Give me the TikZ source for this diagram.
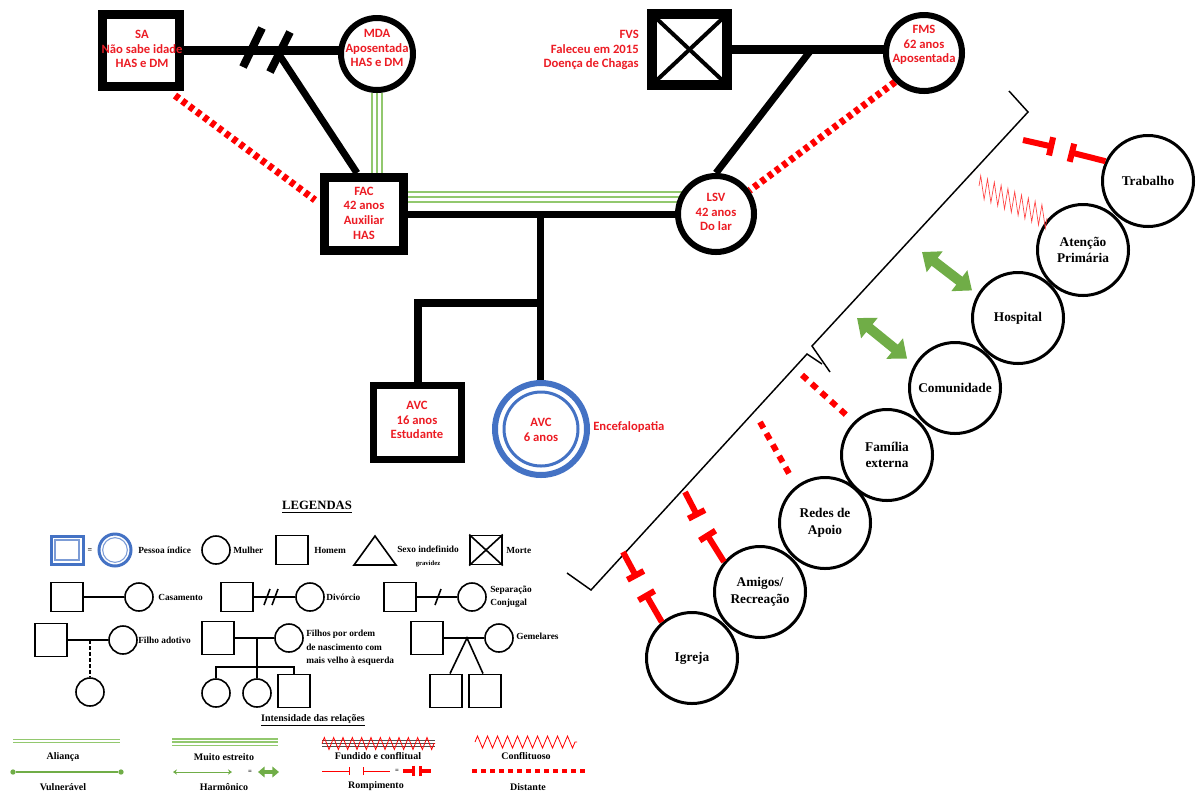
\documentclass[tikz,border=0pt]{standalone}
\usepackage{fontspec}
\setmainfont{Liberation Serif}
\newfontfamily\calib{Carlito}
\usetikzlibrary{arrows.meta,decorations.pathmorphing,calc,shapes.geometric}
\definecolor{gred}{RGB}{236,28,36}
\definecolor{lred}{RGB}{255,0,0}
\definecolor{lgreen}{RGB}{146,200,110}
\definecolor{dgreen}{RGB}{112,173,71}
\definecolor{iblue}{RGB}{68,114,196}
\pgfdeclarelayer{bg}
\pgfsetlayers{bg,main}
\tikzset{
  gsq/.style={draw, rectangle, fill=white, line width=6.75pt, inner sep=0pt},
  gci/.style={draw, circle, fill=white, line width=4.5pt, inner sep=0pt},
  rtxt/.style={text=gred, font=\calib\bfseries\fontsize{9.5}{11}\selectfont, align=center, inner sep=0pt},
  gline/.style={line width=5.25pt},
  mline/.style={line width=6.75pt},
  triple/.style={draw=lgreen, line width=9pt, postaction={draw=white, line width=6pt}, postaction={draw=lgreen, line width=1.9pt}},
  triples/.style={draw=lgreen, line width=6pt, postaction={draw=white, line width=3.75pt}, postaction={draw=lgreen, line width=1.1pt}},
  distg/.style={lred, line width=5.25pt, dash pattern=on 3.75pt off 3pt},
  diste/.style={lred, line width=4.5pt, dash pattern=on 5.25pt off 4.5pt},
  eco/.style={draw, circle, fill=white, line width=2.25pt, minimum size=68.25pt, inner sep=0pt, align=center, font=\bfseries\fontsize{10}{12.5}\selectfont},
  rompe/.style={lred, line width=4.5pt, -{Bar[width=14pt]}},
  harm/.style={dgreen, line width=7.5pt, {Triangle[width=19pt,length=12pt]}-{Triangle[width=19pt,length=12pt]}},
  conf/.style={lred!75, line width=0.5pt, line join=miter},
  brk/.style={line width=1.1pt},
  lsq/.style={draw, rectangle, fill=white, line width=1.2pt, inner sep=0pt, minimum width=24pt, minimum height=22pt},
  lci/.style={draw, circle, fill=white, line width=1.2pt, inner sep=0pt, minimum size=21pt},
  lline/.style={line width=1.2pt},
  ltx/.style={font=\bfseries\fontsize{7}{10}\selectfont, anchor=west, inner sep=0pt, align=left},
  rtx/.style={font=\bfseries\fontsize{7.5}{9}\selectfont, inner sep=0pt},
}
\begin{document}
\begin{tikzpicture}[x=0.75pt,y=-0.75pt]
\useasboundingbox (0,0) rectangle (1198,794);

% ---------------- genogram nodes
\node[gsq, minimum width=57.75pt, minimum height=54pt] (SA) at (141,50) {};
\node[gci, minimum size=54pt] (MDA) at (377,54) {};
\node[gsq, minimum width=59.25pt, minimum height=54.75pt] (FAC) at (364,214) {};
\node[gsq, line width=7.5pt, minimum width=56.25pt, minimum height=53.25pt] (FVS) at (689.5,49.5) {};
\node[gci, minimum size=57pt] (FMS) at (924,53) {};
\node[gci, minimum size=57pt] (LSV) at (716,214) {};
\node[gsq, line width=5.25pt, minimum width=66pt, minimum height=55.5pt] (AVCm) at (417.5,422.5) {};
\node[draw=iblue, circle, fill=white, line width=4.5pt, minimum size=69pt, inner sep=0pt] (AVCf) at (541,429) {};
\node[draw=iblue, circle, line width=2.25pt, minimum size=55.5pt, inner sep=0pt] (AVCfi) at (AVCf) {};

\draw[line width=3pt] ($(FVS.north west)+(10,10)$) -- ($(FVS.south east)+(-10,-10)$);
\draw[line width=3pt] ($(FVS.north east)+(-10,10)$) -- ($(FVS.south west)+(10,-10)$);

\node[rtxt] (tSA) at (142,49) {SA\\Não sabe idade\\HAS e DM};
\node[rtxt] (tMDA) at (377,48) {MDA\\Aposentada\\HAS e DM};
\node[rtxt] (tFAC) at (364,213) {FAC\\42 anos\\Auxiliar\\HAS};
\node[rtxt, anchor=east, align=right] (tFVS) at (639,50) {FVS\\Faleceu em 2015\\Doença de Chagas};
\node[rtxt] (tFMS) at (924,45) {FMS\\62 anos\\Aposentada};
\node[rtxt] (tLSV) at (716,212) {LSV\\42 anos\\Do lar};
\node[rtxt] (tAVCm) at (417,420) {AVC\\16 anos\\Estudante};
\node[rtxt] (tAVCf) at (541,430) {AVC\\6 anos};
\node[rtxt, anchor=west] (tEnc) at (593,427) {Encefalopatia};

\coordinate (m1) at (276,50);
\coordinate (m2) at (811,50);
\coordinate (m3) at (540,214);
\coordinate (sib) at (540,303);

\begin{pgfonlayer}{bg}
  \draw[mline] (SA) -- (SA -| MDA);
  \draw[gline] (m1) -- ($(FAC.north)+(-7,0)$);
  \draw[triple] (MDA) -- (MDA |- FAC);
  \draw[gline] (FAC) -- (LSV);
  \draw[triple] ($(FAC)+(0,-17)$) -- ($(LSV)+(0,-17)$);
  \draw[mline] (FVS) -- (FVS -| FMS);
  \draw[gline] (m2) -- (LSV.north);
  \draw[gline] (m3) -- (m3 |- AVCf.north);
  \draw[line width=6pt] (sib) -| (AVCm.north);
  \draw[distg] ($(SA.south east)+(-9,5)$) -- ($(FAC.west)+(-5,-14)$);
  \draw[distg] (FMS.225) -- (LSV.35);
\end{pgfonlayer}
% divorce slashes
\draw[line width=6pt] (262,28) -- (243,67);
\draw[line width=6pt] (290,32) -- (270,72);

% ---------------- ecomap
\draw[brk] (1009,91) -- (1028,112) -- (812,346) -- (830,372);
\draw[brk] (822,364) -- (807,354) -- (591,590) -- (567,573);

\node[eco] (Trab) at (1148,181) {Trabalho};
\node[eco] (Aten) at (1083,250) {Atenção\\Primária};
\node[eco] (Hosp) at (1018,318) {Hospital};
\node[eco] (Comu) at (955,388) {Comunidade};
\node[eco] (Fami) at (887,455) {Família\\externa};
\node[eco] (Rede) at (825,523) {Redes de\\Apoio};
\node[eco] (Amig) at (760,592) {Amigos/\\Recreação};
\node[eco] (Igre) at (692,658) {Igreja};

\coordinate (rt1) at (1023,140);
\coordinate (rt2) at (1054,147);
\coordinate (rt3) at (1069,152);
\draw[rompe] (rt1) -- (rt2);
\draw[rompe] (Trab.155) -- (rt3);

\coordinate (cz1) at (979,186);
\draw[conf] (cz1) -- ++(1.7,-10.2)
  foreach \k in {1,...,9}{ -- ++(3.4,23.6) -- ++(3.4,-20.4) }
  -- ++(3.4,23.6) -- ++(1.7,-10.2) coordinate (cz2);

\coordinate (h1) at (922,252);
\coordinate (h2) at (857,318);
\draw[harm, shorten >=5pt] (h1) -- (Hosp.150);
\draw[harm, shorten >=7pt] (h2) -- (Comu.150);

\coordinate (ds1) at (802,375);
\coordinate (ds2) at (760,422);
\draw[diste, shorten >=4pt] (ds1) -- (Fami.135);
\draw[diste, shorten >=8pt] (ds2) -- (Rede.128);

\coordinate (ra1) at (685,492);
\coordinate (ra2) at (698,517);
\coordinate (ra3) at (706,533);
\draw[rompe] (ra1) -- (ra2);
\draw[rompe] (Amig.140) -- (ra3);

\coordinate (ri1) at (623,552);
\coordinate (ri2) at (637,578);
\coordinate (ri3) at (645,593);
\draw[rompe] (ri1) -- (ri2);
\draw[rompe] (Igre.130) -- (ri3);

% ---------------- legend
\node[font=\bfseries\fontsize{9.5}{11}\selectfont, inner sep=0pt] (leg) at (317,507) {\underline{LEGENDAS}};

\node[draw=iblue, line width=2.25pt, rectangle, minimum width=24pt, minimum height=21pt, inner sep=0pt] (Lpi1) at (67,550) {};
\node[draw=iblue!70, line width=0.8pt, rectangle, minimum width=18pt, minimum height=15pt, inner sep=0pt] (Lpi1i) at (Lpi1) {};
\node[font=\bfseries\fontsize{6}{7}\selectfont, inner sep=0pt] (Leq1) at (90,551) {=};
\node[draw=iblue, line width=2.25pt, circle, minimum size=24pt, inner sep=0pt] (Lpi2) at (115,550) {};
\node[draw=iblue!70, line width=0.8pt, circle, minimum size=18.5pt, inner sep=0pt] (Lpi2i) at (Lpi2) {};
\node[ltx] (Lpit) at (138,550) {Pessoa índice};
\node[lci] (Lmul) at (216,550) {};
\node[ltx] (Lmult) at (233,550) {Mulher};
\node[lsq] (Lhom) at (292,550) {};
\node[ltx] (Lhomt) at (314,550) {Homem};
\draw[lline, line join=miter] (375,536) -- (396,565) -- (354,565) -- cycle;
\node[ltx] (Lsext) at (397,549) {Sexo indefinido};
\node[font=\bfseries\fontsize{5}{6}\selectfont, inner sep=0pt] (Lgrav) at (428,564) {gravidez};
\node[lsq] (Lmor) at (486,550) {};
\draw[lline] (Lmor.north west) -- (Lmor.south east) (Lmor.north east) -- (Lmor.south west);
\node[ltx] (Lmort) at (506,550) {Morte};

\node[lsq] (Lc1) at (67,597) {};
\node[lci] (Lc2) at (139,597) {};
\draw[lline] (Lc1.east) -- (Lc2.west);
\node[ltx] (Lct) at (158,597) {Casamento};
\node[lsq] (Ld1) at (237,597) {};
\node[lci] (Ld2) at (310,597) {};
\draw[lline] (Ld1.east) -- (Ld2.west);
\draw[lline] (270,589) -- (264,605) (278,589) -- (272,605);
\node[ltx] (Ldt) at (326,597) {Divórcio};
\node[lsq] (Ls1) at (400,597) {};
\node[lci] (Ls2) at (472,597) {};
\draw[lline] (Ls1.east) -- (Ls2.west);
\draw[lline] (441,589) -- (435,605);
\node[ltx] (Lst) at (490,597) {Separação\\Conjugal};

\node[lsq, minimum height=25pt] (La1) at (51,640) {};
\node[lci] (La2) at (123,640) {};
\draw[lline] (La1.east) -- (La2.west);
\coordinate (La3) at (90,640);
\node[lci] (La4) at (90,692) {};
\draw[line width=1.6pt, dash pattern=on 3pt off 1.5pt] (La3) -- (La4.north);
\node[ltx] (Lat) at (138,640) {Filho adotivo};

\node[lsq, minimum height=25pt] (Lf1) at (218,638) {};
\node[lci] (Lf2) at (289,638) {};
\draw[lline] (Lf1.east) -- (Lf2.west);
\coordinate (Lf3) at (257,638);
\coordinate (Lf4) at (257,667);
\node[lci] (Lk1) at (216,693) {};
\node[lci] (Lk2) at (257,693) {};
\node[lsq, minimum height=25pt] (Lk3) at (294,691) {};
\draw[lline] (Lf3) -- (Lk2.north);
\draw[lline] (Lk1.north) |- (Lf4) -| (Lk3.north);
\node[ltx] (Lft) at (306,648) {Filhos por ordem\\de nascimento com\\mais velho à esquerda};

\node[lsq, minimum height=25pt] (Lg1) at (427,638) {};
\node[lci] (Lg2) at (499,638) {};
\draw[lline] (Lg1.east) -- (Lg2.west);
\coordinate (Lg3) at (467,638);
\node[lsq, minimum height=25pt] (Lg4) at (446,691) {};
\node[lsq, minimum height=25pt] (Lg5) at (485,691) {};
\draw[lline] ($(Lg4.north)+(4,0)$) -- (Lg3) -- ($(Lg5.north)+(-2,0)$);
\node[ltx] (Lgt) at (516,636) {Gemelares};

% relations legend
\node[rtx] (Lint) at (313,720) {\underline{Intensidade das relações}};
\coordinate (Al1) at (13,741);
\coordinate (Al2) at (120,741);
\draw[draw=lgreen, double=white, double distance=1.5pt, line width=0.9pt] (Al1) -- (Al2);
\coordinate (Me1) at (172,742);
\coordinate (Me2) at (278,742);
\draw[triples] (Me1) -- (Me2);
\coordinate (Fu1) at (322,743.5);
\coordinate (Fu2) at (435,743.5);
\draw[black!70, line width=0.8pt] ($(Fu1)+(0,-3)$) -- ($(Fu2)+(0,-3)$) (Fu1) -- (Fu2) ($(Fu1)+(0,3)$) -- ($(Fu2)+(0,3)$);
\draw[lred, line width=0.6pt, decorate, decoration={zigzag, amplitude=4.5pt, segment length=7pt}] (Fu1) -- (Fu2);
\coordinate (Co1) at (475,742);
\coordinate (Co2) at (577,742);
\draw[lred, line width=0.6pt, decorate, decoration={zigzag, amplitude=4.5pt, segment length=7.5pt}] (Co1) -- (Co2);
\node[rtx] (Lal) at (63,757) {Aliança};
\node[rtx] (Lme) at (224,757) {Muito estreito};
\node[rtx] (Lfu) at (378,756) {Fundido e conflitual};
\node[rtx] (Lco) at (526,756) {Conflituoso};

\node[circle, fill=dgreen, minimum size=4pt, inner sep=0pt] (V1) at (13,772) {};
\node[circle, fill=dgreen, minimum size=4pt, inner sep=0pt] (V2) at (121,772) {};
\draw[dgreen, line width=0.8pt] (V1) -- (V2);
\coordinate (Ha1) at (173,772);
\coordinate (Ha2) at (232,772);
\draw[dgreen, line width=0.7pt, {Stealth[length=3pt,width=4pt]}-{Stealth[length=3pt,width=4pt]}] (Ha1) -- (Ha2);
\node[font=\bfseries\fontsize{5}{6}\selectfont, inner sep=0pt] (Heq) at (250,772) {=};
\coordinate (Ha3) at (258,772);
\coordinate (Ha4) at (279,772);
\draw[dgreen, line width=3pt, {Triangle[width=8pt,length=5pt]}-{Triangle[width=8pt,length=5pt]}] (Ha3) -- (Ha4);
\coordinate (Ro1) at (322,771);
\coordinate (Ro2) at (350,771);
\coordinate (Ro3) at (363,771);
\coordinate (Ro4) at (390,771);
\draw[lred, line width=0.7pt, -{Bar[width=6pt]}] (Ro1) -- (Ro2);
\draw[lred, line width=0.7pt, {Bar[width=6pt]}-] (Ro3) -- (Ro4);
\node[font=\bfseries\fontsize{5}{6}\selectfont, inner sep=0pt] (Req) at (397,771) {=};
\coordinate (Ro5) at (403,771);
\coordinate (Ro6) at (415,771);
\coordinate (Ro7) at (419,771);
\coordinate (Ro8) at (431,771);
\draw[lred, line width=2.5pt, -{Bar[width=8pt]}] (Ro5) -- (Ro6);
\draw[lred, line width=2.5pt, {Bar[width=8pt]}-] (Ro7) -- (Ro8);
\coordinate (Di1) at (472,771);
\coordinate (Di2) at (586,771);
\draw[lred, line width=3pt, dash pattern=on 3.75pt off 3pt] (Di1) -- (Di2);
\node[rtx] (Lvu) at (63,787) {Vulnerável};
\node[rtx] (Lha) at (224,787) {Harmônico};
\node[rtx] (Lro) at (376,786) {Rompimento};
\node[rtx] (Ldi) at (528,787) {Distante};
\end{tikzpicture}
\end{document}
